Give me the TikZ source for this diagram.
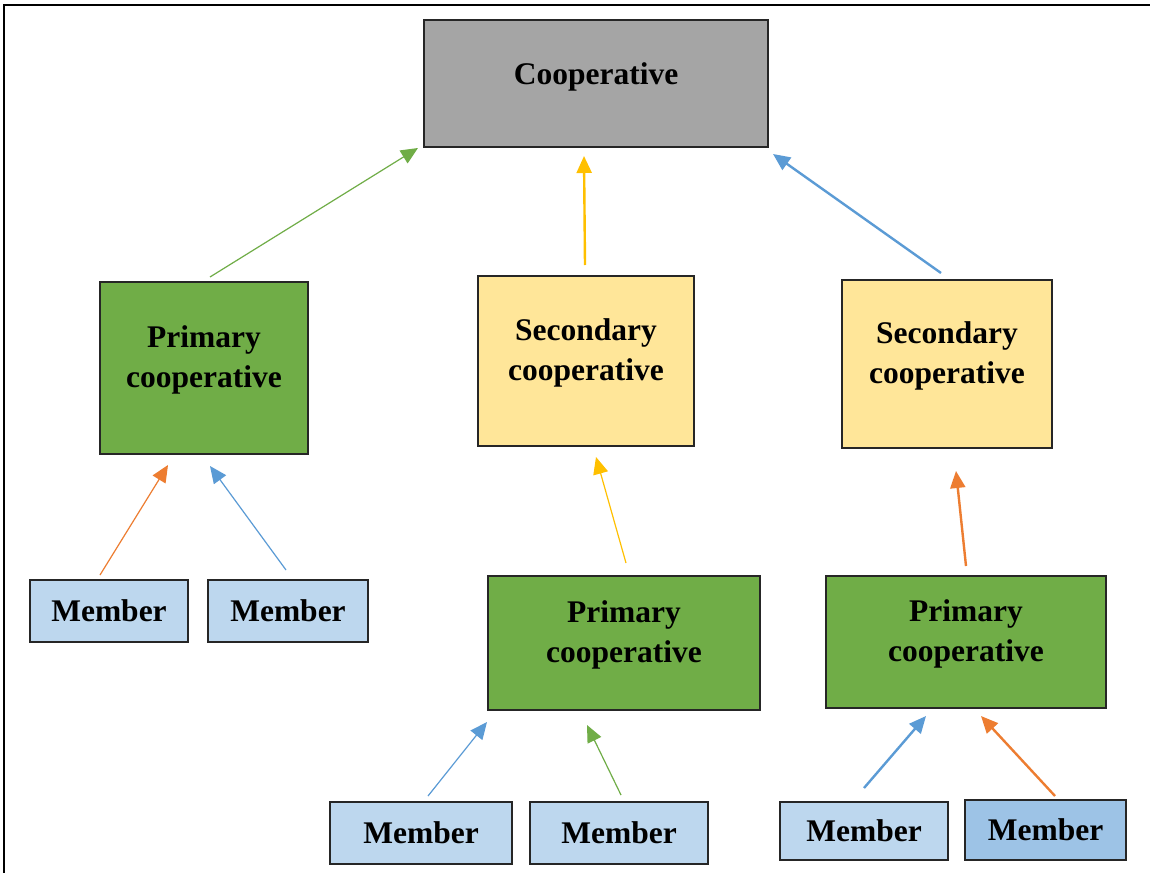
\documentclass[tikz,border=0pt]{standalone}
\usepackage{fontspec}
\setmainfont{Liberation Serif}
\usetikzlibrary{arrows.meta}

\definecolor{coopgray}{HTML}{A5A5A5}
\definecolor{primgreen}{HTML}{70AD47}
\definecolor{secyellow}{HTML}{FFE699}
\definecolor{memblue}{HTML}{BDD7EE}
\definecolor{memblue2}{HTML}{9DC3E6}
\definecolor{edge}{HTML}{262626}
\definecolor{arOrange}{HTML}{ED7D31}
\definecolor{arBlue}{HTML}{5B9BD5}
\definecolor{arGreen}{HTML}{70AD47}
\definecolor{arYellow}{HTML}{FFC000}

\tikzset{
  box/.style={draw=edge, line width=1.3pt, inner sep=0pt, outer sep=0pt},
  txt/.style={font=\fontsize{31.5}{40}\selectfont\bfseries, align=center, inner sep=0pt},
  coopbox/.style={box, fill=coopgray},
  primbox/.style={box, fill=primgreen},
  secbox/.style={box, fill=secyellow},
  membox/.style={box, fill=memblue, font=\fontsize{31.5}{40}\selectfont\bfseries},
  link/.style={-{Triangle[length=17pt,width=15pt]}},
  thin link/.style={link, line width=1.2pt},
  thick link/.style={link, line width=2.4pt},
}

\begin{document}
\begin{tikzpicture}[x=1pt,y=-1pt]
\useasboundingbox (0,0) rectangle (1150,872);
\fill[white] (0,0) rectangle (1150,872);

% outer frame
\draw[line width=2.2pt] (4,880) -- (4,5) -- (1160,5);

% boxes
\node[coopbox, minimum width=344pt, minimum height=127pt] (coop) at (596,83.5) {};
\node[txt] (coopT) at ([yshift=7pt]coop.center) {Cooperative};

\node[primbox, minimum width=208pt, minimum height=172pt] (pcL) at (204,368) {};
\node[txt] (pcLT) at ([yshift=8pt]pcL.center) {Primary\\cooperative};

\node[secbox, minimum width=216pt, minimum height=170pt] (scM) at (586,361) {};
\node[txt] (scMT) at ([yshift=8pt]scM.center) {Secondary\\cooperative};

\node[secbox, minimum width=210pt, minimum height=168pt] (scR) at (947,364) {};
\node[txt] (scRT) at ([yshift=8pt]scR.center) {Secondary\\cooperative};

\node[primbox, minimum width=272pt, minimum height=134pt] (pcM) at (624,643) {};
\node[txt] (pcMT) at ([yshift=8pt]pcM.center) {Primary\\cooperative};

\node[primbox, minimum width=280pt, minimum height=132pt] (pcR) at (966,642) {};
\node[txt] (pcRT) at ([yshift=8pt]pcR.center) {Primary\\cooperative};

\node[membox, minimum width=158pt, minimum height=62pt] (m1) at (109,611) {Member};
\node[membox, minimum width=160pt, minimum height=62pt] (m2) at (288,611) {Member};
\node[membox, minimum width=182pt, minimum height=62pt] (m3) at (421,833) {Member};
\node[membox, minimum width=178pt, minimum height=62pt] (m4) at (619,833) {Member};
\node[membox, minimum width=168pt, minimum height=58pt] (m5) at (864,831) {Member};
\node[membox, fill=memblue2, minimum width=161pt, minimum height=60pt] (m6) at (1045.5,830) {Member};

% connector end points, set a little apart from the boxes
\coordinate (pcLtop) at (210,277);   \coordinate (coopL) at (418,148);
\coordinate (scMtop) at (585,265);   \coordinate (coopM) at (584,156);
\coordinate (scRtop) at (941,273);   \coordinate (coopR) at (773,154);
\coordinate (pcMtop) at (626,563);   \coordinate (scMbot) at (596,457);
\coordinate (pcRtop) at (966,566);   \coordinate (scRbot) at (956,471);
\coordinate (m1top) at (100,575);    \coordinate (pcLbotA) at (168,465);
\coordinate (m2top) at (286,570);    \coordinate (pcLbotB) at (210,466);
\coordinate (m3top) at (428,796);    \coordinate (pcMbotA) at (487,722);
\coordinate (m4top) at (621,795);    \coordinate (pcMbotB) at (587,725);
\coordinate (m5top) at (864,788);    \coordinate (pcRbotA) at (926,716);
\coordinate (m6top) at (1055,796);   \coordinate (pcRbotB) at (981,716);

% connectors
\draw[thin link, arGreen]   (pcLtop) -- (coopL);
\draw[thick link, arYellow] (scMtop) -- (coopM);
\draw[thick link, arBlue]   (scRtop) -- (coopR);
\draw[thin link, arYellow]  (pcMtop) -- (scMbot);
\draw[thick link, arOrange] (pcRtop) -- (scRbot);
\draw[thin link, arOrange]  (m1top) -- (pcLbotA);
\draw[thin link, arBlue]    (m2top) -- (pcLbotB);
\draw[thin link, arBlue]    (m3top) -- (pcMbotA);
\draw[thin link, arGreen]   (m4top) -- (pcMbotB);
\draw[thick link, arBlue]   (m5top) -- (pcRbotA);
\draw[thick link, arOrange] (m6top) -- (pcRbotB);
\end{tikzpicture}
\end{document}
